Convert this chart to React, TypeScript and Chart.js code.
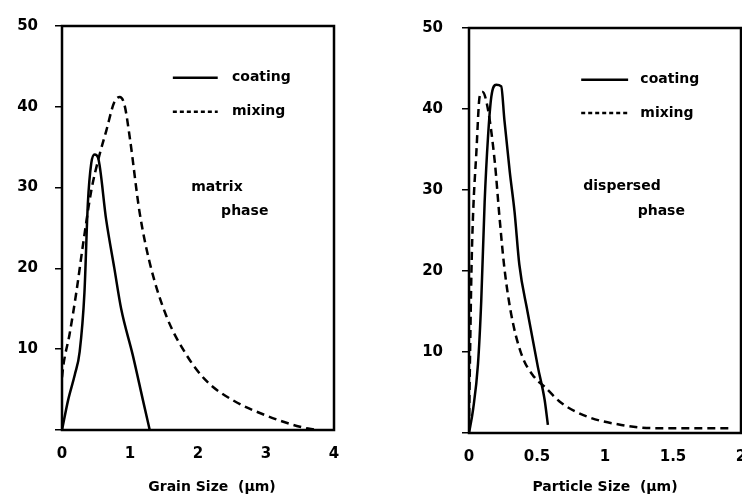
import React, { useEffect, useRef } from 'react';
import { Chart, registerables } from 'chart.js';

Chart.register(...registerables);

// ---------- DATA ----------
const grainTicks = [0, 1, 2, 3, 4];
const grainTickLabels = ['0', '1', '2', '3', '4'];
const particleTicks = [0, 0.5, 1, 1.5, 2];
const particleTickLabels = ['0', '0.5', '1', '1.5', '2'];
const yTicks = [10, 20, 30, 40, 50];

const grainCoatingX = [0, 0.09, 0.19, 0.26, 0.33, 0.38, 0.43, 0.48, 0.53, 0.65, 0.77, 0.87, 1.04, 1.19, 1.29];
const grainCoatingY = [0, 3.7, 6.9, 9.7, 17, 28, 33, 34.1, 33.7, 26, 20, 15, 9.3, 3.7, 0];

const grainMixingX = [0, 0.02, 0.11, 0.21, 0.31, 0.43, 0.55, 0.65, 0.77, 0.85, 0.92, 1.0, 1.14, 1.29, 1.53, 1.83, 2.12, 2.51, 3.0, 3.5, 3.74];
const grainMixingY = [6.5, 8, 11.8, 17, 23, 29.6, 34, 37, 40.6, 41.2, 40.2, 36, 27, 20.7, 14.2, 9.3, 6.1, 3.7, 1.8, 0.4, 0];

const particleCoatingX = [0, 0.03, 0.066, 0.09, 0.115, 0.14, 0.164, 0.2, 0.237, 0.26, 0.3, 0.335, 0.37, 0.43, 0.507, 0.556, 0.58];
const particleCoatingY = [0, 2.9, 8.5, 16.3, 28.5, 36.6, 41.5, 43, 42.8, 38.7, 32.2, 27.3, 20.8, 15, 8.1, 4.1, 1];

const particleMixingX = [0, 0.008, 0.018, 0.03, 0.054, 0.078, 0.1, 0.14, 0.19, 0.225, 0.26, 0.31, 0.384, 0.48, 0.556, 0.68, 0.874, 1.12, 1.36, 1.73, 1.91];
const particleMixingY = [0.5, 10, 20, 27, 34.6, 41.5, 42.1, 39.9, 33.4, 26.5, 20.4, 14.7, 9.8, 6.9, 5.7, 3.7, 2, 1, 0.6, 0.6, 0.6];

const seriesNames = ['coating', 'mixing'];
// ---------------------------

const FONT = '"DejaVu Sans", "Liberation Sans", sans-serif';

const zip = (xs: number[], ys: number[]) => xs.map((x, i) => ({ x, y: ys[i] }));

type PanelCfg = {
  xMax: number;
  xTicks: number[];
  xLabels: string[];
  coating: { x: number; y: number }[];
  mixing: { x: number; y: number }[];
  padTop: number;
  padRight: number;
  yWidth: number;
  xHeight: number;
  yPad: number;
  xTitle: string;
  titleOffset: number;
  legend: { x0: number; x1: number; tx: number; y1: number; y2: number };
  note: string[];
  noteX: number[];
  noteY: number[];
};

function makeChart(canvas: HTMLCanvasElement, p: PanelCfg) {
  const annot = {
    id: 'annot',
    afterDraw(chart: any) {
      const { ctx, chartArea: a, scales } = chart;
      const x = scales.x, y = scales.y;
      ctx.save();
      ctx.strokeStyle = '#000';
      ctx.lineWidth = 2.5;
      ctx.strokeRect(a.left, a.top, a.right - a.left, a.bottom - a.top);
      // legend
      ctx.lineWidth = 2.5;
      ctx.beginPath();
      ctx.moveTo(x.getPixelForValue(p.legend.x0), y.getPixelForValue(p.legend.y1));
      ctx.lineTo(x.getPixelForValue(p.legend.x1), y.getPixelForValue(p.legend.y1));
      ctx.stroke();
      ctx.setLineDash([4, 3]);
      ctx.beginPath();
      ctx.moveTo(x.getPixelForValue(p.legend.x0), y.getPixelForValue(p.legend.y2));
      ctx.lineTo(x.getPixelForValue(p.legend.x1), y.getPixelForValue(p.legend.y2));
      ctx.stroke();
      ctx.setLineDash([]);
      ctx.fillStyle = '#000';
      ctx.font = `bold 14px ${FONT}`;
      ctx.textBaseline = 'middle';
      ctx.textAlign = 'left';
      ctx.fillText(seriesNames[0], x.getPixelForValue(p.legend.tx), y.getPixelForValue(p.legend.y1));
      ctx.fillText(seriesNames[1], x.getPixelForValue(p.legend.tx), y.getPixelForValue(p.legend.y2));
      p.note.forEach((t, i) => {
        ctx.fillText(t, x.getPixelForValue(p.noteX[i]), y.getPixelForValue(p.noteY[i]));
      });
      // axis title
      ctx.textAlign = 'center';
      ctx.fillText(p.xTitle, (a.left + a.right) / 2 + p.titleOffset, chart.height - 8);
      ctx.restore();
    },
  };

  const tickFont = { family: FONT, size: 15, weight: 'bold' as const };

  return new Chart(canvas, {
    type: 'line',
    data: {
      datasets: [
        {
          label: seriesNames[0],
          data: p.coating,
          borderColor: '#000',
          borderWidth: 2.5,
          pointRadius: 0,
          cubicInterpolationMode: 'monotone',
          fill: false,
        },
        {
          label: seriesNames[1],
          data: p.mixing,
          borderColor: '#000',
          borderWidth: 2.5,
          borderDash: [8, 5],
          pointRadius: 0,
          cubicInterpolationMode: 'monotone',
          fill: false,
        },
      ],
    },
    options: {
      animation: false,
      responsive: false,
      maintainAspectRatio: false,
      layout: { padding: { top: p.padTop, right: p.padRight, left: 0, bottom: 0 } },
      plugins: { legend: { display: false }, tooltip: { enabled: false } },
      scales: {
        x: {
          type: 'linear',
          min: 0,
          max: p.xMax,
          afterFit: (s: any) => { s.height = p.xHeight; },
          afterBuildTicks: (s: any) => { s.ticks = p.xTicks.map((v) => ({ value: v })); },
          ticks: {
            callback: (v: any) => p.xLabels[p.xTicks.indexOf(Number(v))] ?? '',
            color: '#000',
            font: tickFont,
            padding: 7,
            maxRotation: 0,
            autoSkip: false,
          },
          grid: { display: false },
          border: { display: false },
        },
        y: {
          type: 'linear',
          min: 0,
          max: 50,
          afterFit: (s: any) => { s.width = p.yWidth; },
          afterBuildTicks: (s: any) => { s.ticks = [0, ...yTicks].map((v) => ({ value: v })); },
          ticks: {
            callback: (v: any) => (Number(v) === 0 ? '' : String(v)),
            color: '#000',
            font: tickFont,
            padding: p.yPad,
          },
          grid: { drawOnChartArea: false, tickLength: 7, color: '#000', lineWidth: 1.5 },
          border: { display: false },
        },
      },
    },
    plugins: [annot],
  } as any);
}

const leftCfg: PanelCfg = {
  xMax: 4,
  xTicks: grainTicks,
  xLabels: grainTickLabels,
  coating: zip(grainCoatingX, grainCoatingY),
  mixing: zip(grainMixingX, grainMixingY),
  padTop: 19,
  padRight: 37,
  yWidth: 62,
  xHeight: 65,
  yPad: 17,
  xTitle: 'Grain Size  (µm)',
  titleOffset: 14,
  legend: { x0: 1.63, x1: 2.29, tx: 2.5, y1: 43.6, y2: 39.4 },
  note: ['matrix', 'phase'],
  noteX: [1.9, 2.34],
  noteY: [30, 27],
};

const rightCfg: PanelCfg = {
  xMax: 2,
  xTicks: particleTicks,
  xLabels: particleTickLabels,
  coating: zip(particleCoatingX, particleCoatingY),
  mixing: zip(particleMixingX, particleMixingY),
  padTop: 24,
  padRight: 20,
  yWidth: 98,
  xHeight: 62,
  yPad: 19,
  xTitle: 'Particle Size  (µm)',
  titleOffset: 0,
  legend: { x0: 0.825, x1: 1.17, tx: 1.26, y1: 43.6, y2: 39.5 },
  note: ['dispersed', 'phase'],
  noteX: [0.84, 1.24],
  noteY: [30.5, 27.4],
};

function Panel({ cfg, left, width }: { cfg: PanelCfg; left: number; width: number }) {
  const ref = useRef<HTMLCanvasElement>(null);
  useEffect(() => {
    if (!ref.current) return;
    const c = makeChart(ref.current, cfg);
    return () => c.destroy();
  }, [cfg]);
  return (
    <canvas
      ref={ref}
      width={width}
      height={495}
      style={{ position: 'absolute', left, top: 0, width, height: 495 }}
    />
  );
}

export default function App() {
  return (
    <div
      style={{
        position: 'absolute',
        left: 0,
        top: 0,
        width: 742,
        height: 495,
        overflow: 'hidden',
        background: '#fff',
      }}
    >
      <Panel cfg={leftCfg} left={0} width={371} />
      <Panel cfg={rightCfg} left={371} width={390} />
    </div>
  );
}
